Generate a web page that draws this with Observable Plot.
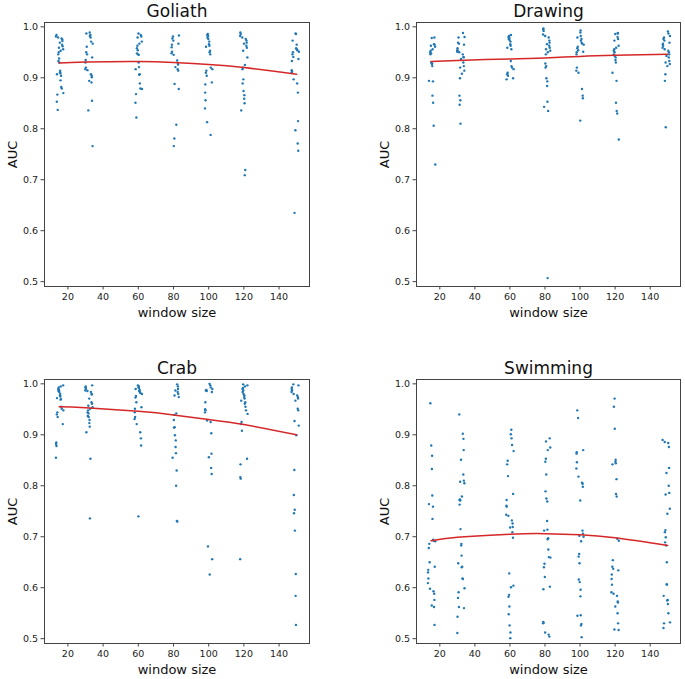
<!DOCTYPE html>
<html>
<head>
<meta charset="utf-8">
<script src="https://cdn.jsdelivr.net/npm/d3@7"></script>
<script src="https://cdn.jsdelivr.net/npm/@observablehq/plot@0.6"></script>
<style>
  html, body { margin: 0; padding: 0; background: #fff; }
  #wrap { position: relative; width: 685px; height: 679px; }
  .panel { position: absolute; }
</style>
</head>
<body>
<div id="wrap"></div>
<script>
// ---- data ----
const windowSizes = [15, 30, 60, 80, 100, 120, 150];
const columnCenters = [15.3, 32, 60, 81, 100, 120, 149.2];
const jitterOffsets = [-1.8, 0.9, -0.3, 1.6, -1.1, 0.4, 2.0, -2.1, 1.2, -0.7, 0.1, 1.8, -1.5, 0.6, -0.9, 2.1,
                       -0.2, 1.4, -1.9, 0.8, -0.5, 1.1, -1.3, 0.3, 1.7, -2.0, 0.5, -0.8, 1.5, -1.6, 0.2, -0.4];
const xTicks = [20, 40, 60, 80, 100, 120, 140];
const yTicks = [0.5, 0.6, 0.7, 0.8, 0.9, 1.0];
const titles = ["Goliath", "Drawing", "Crab", "Swimming"];

const goliathAUC = [
  [0.984,0.981,0.979,0.977,0.975,0.972,0.969,0.965,0.962,0.959,0.956,0.953,0.950,0.946,0.938,0.933,0.930,0.914,0.911,0.909,0.907,0.904,0.895,0.882,0.879,0.870,0.867,0.853,0.837],
  [0.989,0.987,0.984,0.982,0.979,0.971,0.967,0.961,0.950,0.946,0.940,0.935,0.930,0.920,0.917,0.915,0.907,0.904,0.901,0.894,0.891,0.855,0.836,0.766],
  [0.987,0.984,0.981,0.979,0.971,0.967,0.963,0.958,0.954,0.948,0.946,0.945,0.930,0.921,0.917,0.907,0.906,0.889,0.879,0.878,0.868,0.851,0.822],
  [0.983,0.981,0.977,0.973,0.967,0.965,0.960,0.951,0.948,0.945,0.934,0.929,0.926,0.921,0.917,0.914,0.888,0.878,0.808,0.781,0.766],
  [0.986,0.984,0.982,0.979,0.976,0.971,0.966,0.963,0.961,0.953,0.950,0.946,0.920,0.917,0.914,0.910,0.904,0.891,0.887,0.871,0.856,0.840,0.813,0.788],
  [0.989,0.986,0.982,0.979,0.976,0.973,0.969,0.967,0.963,0.959,0.953,0.940,0.925,0.920,0.917,0.897,0.889,0.874,0.866,0.859,0.850,0.836,0.719,0.709],
  [0.987,0.986,0.973,0.965,0.958,0.956,0.954,0.951,0.950,0.946,0.941,0.937,0.933,0.915,0.912,0.910,0.897,0.889,0.871,0.815,0.797,0.771,0.757,0.635]
];
const drawingAUC = [
  [0.979,0.978,0.966,0.965,0.963,0.961,0.956,0.953,0.950,0.948,0.946,0.930,0.928,0.927,0.923,0.894,0.893,0.865,0.851,0.806,0.730],
  [0.988,0.980,0.979,0.969,0.967,0.965,0.958,0.954,0.953,0.951,0.950,0.946,0.941,0.940,0.937,0.930,0.923,0.920,0.914,0.908,0.899,0.865,0.856,0.847,0.810],
  [0.984,0.982,0.980,0.978,0.976,0.974,0.971,0.966,0.963,0.959,0.956,0.933,0.923,0.920,0.917,0.910,0.907,0.904,0.899,0.897],
  [0.997,0.995,0.992,0.985,0.982,0.979,0.973,0.969,0.966,0.963,0.959,0.956,0.953,0.950,0.946,0.928,0.923,0.920,0.899,0.893,0.884,0.853,0.843,0.835,0.507],
  [0.993,0.989,0.982,0.979,0.976,0.973,0.969,0.967,0.965,0.961,0.958,0.954,0.951,0.950,0.946,0.920,0.914,0.910,0.878,0.865,0.860,0.816],
  [0.988,0.987,0.986,0.980,0.976,0.973,0.963,0.959,0.956,0.953,0.950,0.946,0.943,0.940,0.935,0.930,0.910,0.894,0.851,0.835,0.830,0.779],
  [0.991,0.987,0.982,0.979,0.976,0.973,0.969,0.967,0.965,0.963,0.959,0.956,0.953,0.950,0.946,0.943,0.940,0.933,0.930,0.927,0.923,0.907,0.894,0.803]
];
const crabAUC = [
  [0.997,0.995,0.993,0.990,0.988,0.986,0.984,0.980,0.977,0.975,0.972,0.970,0.969,0.955,0.951,0.948,0.944,0.940,0.935,0.921,0.885,0.882,0.878,0.855],
  [0.997,0.995,0.993,0.990,0.987,0.986,0.984,0.980,0.979,0.971,0.964,0.961,0.957,0.954,0.951,0.948,0.944,0.942,0.937,0.935,0.929,0.923,0.916,0.905,0.853,0.736],
  [0.997,0.995,0.993,0.992,0.990,0.988,0.986,0.984,0.982,0.980,0.976,0.973,0.964,0.954,0.951,0.944,0.935,0.931,0.921,0.905,0.893,0.879,0.740],
  [0.999,0.995,0.990,0.987,0.984,0.980,0.977,0.974,0.942,0.939,0.929,0.915,0.914,0.899,0.889,0.876,0.864,0.855,0.830,0.800,0.731,0.730],
  [1.000,0.997,0.993,0.990,0.988,0.987,0.986,0.984,0.964,0.950,0.948,0.944,0.928,0.925,0.903,0.863,0.856,0.835,0.823,0.681,0.656,0.626],
  [0.999,0.997,0.995,0.992,0.990,0.987,0.984,0.980,0.977,0.974,0.971,0.967,0.964,0.961,0.955,0.948,0.941,0.925,0.921,0.908,0.853,0.842,0.817,0.814,0.656],
  [0.999,0.997,0.993,0.990,0.987,0.984,0.980,0.977,0.974,0.971,0.967,0.951,0.948,0.927,0.918,0.899,0.831,0.782,0.753,0.746,0.712,0.627,0.584,0.527]
];
const swimmingAUC = [
  [0.962,0.879,0.859,0.833,0.781,0.764,0.759,0.735,0.694,0.692,0.691,0.686,0.678,0.650,0.641,0.635,0.630,0.618,0.609,0.598,0.593,0.588,0.576,0.565,0.562,0.527],
  [0.940,0.902,0.892,0.870,0.851,0.822,0.810,0.808,0.805,0.779,0.773,0.772,0.771,0.763,0.715,0.686,0.683,0.663,0.648,0.641,0.640,0.618,0.617,0.599,0.591,0.580,0.562,0.560,0.543,0.511],
  [0.910,0.901,0.893,0.880,0.868,0.849,0.842,0.819,0.784,0.772,0.761,0.759,0.743,0.741,0.732,0.726,0.719,0.718,0.709,0.698,0.628,0.604,0.601,0.586,0.582,0.563,0.548,0.526,0.512,0.501],
  [0.893,0.887,0.875,0.870,0.853,0.847,0.822,0.789,0.775,0.769,0.731,0.714,0.712,0.697,0.695,0.675,0.660,0.659,0.647,0.640,0.621,0.602,0.597,0.533,0.531,0.530,0.512,0.508,0.504],
  [0.948,0.933,0.870,0.866,0.863,0.846,0.834,0.818,0.806,0.804,0.798,0.771,0.712,0.706,0.702,0.700,0.691,0.666,0.661,0.648,0.616,0.611,0.596,0.583,0.546,0.545,0.529,0.526,0.503],
  [0.971,0.955,0.912,0.851,0.847,0.844,0.842,0.813,0.784,0.779,0.696,0.692,0.654,0.641,0.637,0.634,0.626,0.617,0.606,0.591,0.588,0.584,0.573,0.571,0.563,0.550,0.530,0.518,0.517],
  [0.890,0.886,0.884,0.876,0.835,0.825,0.800,0.786,0.783,0.755,0.745,0.713,0.709,0.699,0.689,0.683,0.650,0.607,0.606,0.584,0.576,0.575,0.568,0.550,0.532,0.530,0.521]
];

const goliathFit  = [0.929, 0.931, 0.932, 0.930, 0.926, 0.920, 0.907];
const drawingFit  = [0.932, 0.934, 0.937, 0.939, 0.942, 0.944, 0.946];
const crabFit     = [0.955, 0.953, 0.946, 0.939, 0.930, 0.920, 0.900];
const swimmingFit = [0.692, 0.699, 0.705, 0.706, 0.704, 0.698, 0.683];

// ---- layout ----
const layout = [
  {left: 0,   top: 0,   width: 343, height: 330, ml: 44, mr: 34, mt: 22, mb: 44},
  {left: 343, top: 0,   width: 342, height: 330, ml: 73, mr: 5,  mt: 22, mb: 44},
  {left: 0,   top: 340, width: 343, height: 339, ml: 44, mr: 34, mt: 39, mb: 36},
  {left: 343, top: 340, width: 342, height: 339, ml: 73, mr: 5,  mt: 39, mb: 36}
];
const aucSets = [goliathAUC, drawingAUC, crabAUC, swimmingAUC];
const fitSets = [goliathFit, drawingFit, crabFit, swimmingFit];

const wrap = document.getElementById("wrap");

titles.forEach((title, p) => {
  const L = layout[p];
  const points = [];
  aucSets[p].forEach((col, c) => {
    col.forEach((auc, i) => {
      const j = jitterOffsets[(i * 7 + c * 5 + p * 3) % jitterOffsets.length];
      points.push({x: columnCenters[c] + j, auc});
    });
  });
  const fitRows = windowSizes.map((w, i) => ({window: w, auc: fitSets[p][i]}));

  const chart = Plot.plot({
    width: L.width,
    height: L.height,
    marginLeft: L.ml,
    marginRight: L.mr,
    marginTop: L.mt,
    marginBottom: L.mb,
    x: {domain: [6.7, 157.3]},
    y: {domain: [0.4905, 1.0085]},
    style: {fontFamily: "'DejaVu Sans', sans-serif", background: "white", color: "#222", overflow: "visible"},
    marks: [
      Plot.dot(points, {x: "x", y: "auc", r: 1.2, fill: "#1f77b4", stroke: "none"}),
      Plot.line(fitRows, {x: "window", y: "auc", stroke: "#d62728", strokeWidth: 1.5, curve: "natural"}),
      Plot.frame({stroke: "#444", strokeWidth: 1}),
      Plot.axisX({ticks: xTicks, tickSize: 3.5, tickPadding: 3, fontSize: 9.5, label: null, stroke: "#444"}),
      Plot.axisY({ticks: yTicks, tickFormat: d3.format(".1f"), tickSize: 3.5, tickPadding: 3, fontSize: 9.5, label: null, stroke: "#444"}),
      Plot.text([title], {frameAnchor: "top", dy: -6, lineAnchor: "bottom", textAnchor: "middle", fontSize: 17, fill: "#111"}),
      Plot.text(["window size"], {frameAnchor: "bottom", dy: 30, lineAnchor: "bottom", textAnchor: "middle", fontSize: 13, fill: "#111"}),
      Plot.text(["AUC"], {frameAnchor: "left", dx: -28, rotate: -90, lineAnchor: "bottom", textAnchor: "middle", fontSize: 13, fill: "#111"})
    ]
  });
  const div = document.createElement("div");
  div.className = "panel";
  div.style.left = L.left + "px";
  div.style.top = L.top + "px";
  div.appendChild(chart);
  wrap.appendChild(div);
});
</script>
</body>
</html>
